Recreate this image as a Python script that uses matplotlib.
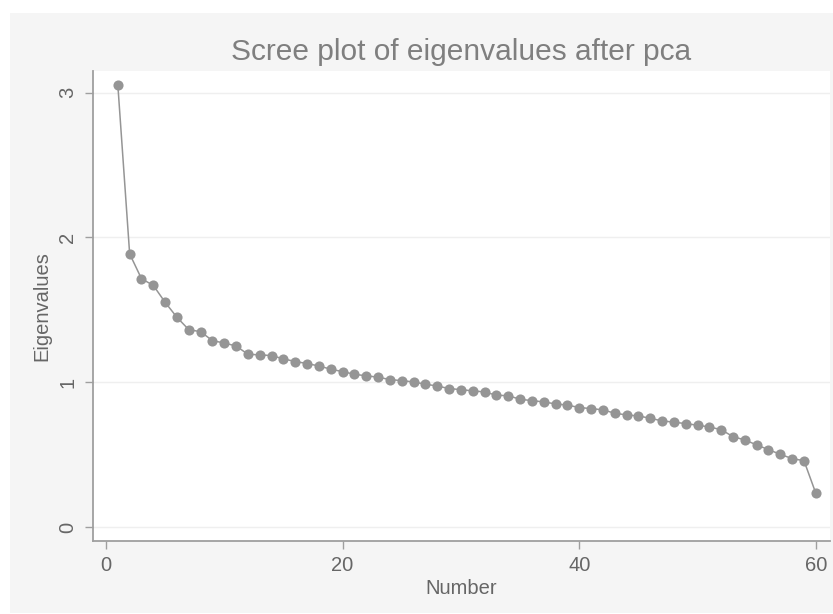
import matplotlib
matplotlib.use("Agg")
import matplotlib.pyplot as plt
from matplotlib.patches import Rectangle

# eigenvalues
number = list(range(1, 61))
eigenvalues = [
    3.055, 1.887, 1.715, 1.669, 1.552, 1.448, 1.363, 1.349, 1.287, 1.271,
    1.250, 1.193, 1.189, 1.184, 1.161, 1.143, 1.129, 1.112, 1.090, 1.073,
    1.055, 1.044, 1.035, 1.018, 1.011, 1.002, 0.986, 0.974, 0.956, 0.949,
    0.940, 0.933, 0.910, 0.907, 0.882, 0.873, 0.864, 0.850, 0.842, 0.825,
    0.818, 0.809, 0.786, 0.774, 0.767, 0.751, 0.733, 0.724, 0.714, 0.703,
    0.691, 0.672, 0.624, 0.601, 0.567, 0.534, 0.502, 0.472, 0.458, 0.233,
]
xticks = [0, 20, 40, 60]
yticks = [0, 1, 2, 3]

plt.rcParams['font.family'] = ['Liberation Sans', 'DejaVu Sans']
text_col = '#666666'
axis_col = '#9f9f9f'
mark_col = '#959595'

fig = plt.figure(figsize=(8.33, 6.14), dpi=100)
fig.patch.set_facecolor('white')
fig.add_artist(Rectangle((10 / 833, 1 - 613 / 614), 823 / 833, 600 / 614,
                         transform=fig.transFigure, facecolor='#f5f5f5',
                         edgecolor='none', zorder=0))

ax = fig.add_axes([92.5 / 833, 1 - 541 / 614, (830 - 92.5) / 833, (541 - 71) / 614])
ax.set_facecolor('white')
ax.plot(number, eigenvalues, color=mark_col, lw=1.1, marker='o',
        markersize=7.3, markerfacecolor=mark_col, markeredgewidth=0, zorder=3)

ax.set_xlim(-1.14, 61.2)
ax.set_ylim(-0.097, 3.15)
ax.set_xticks(xticks)
ax.set_yticks(yticks)
ax.grid(axis='y', color='#efefef', lw=1.0)
ax.set_axisbelow(True)

for side in ['top', 'right']:
    ax.spines[side].set_visible(False)
for side in ['left', 'bottom']:
    ax.spines[side].set_color(axis_col)
    ax.spines[side].set_linewidth(1.3)

ax.tick_params(axis='both', colors=axis_col, labelcolor=text_col,
               length=6, width=1.0, labelsize=14.5, pad=5)
for lab in ax.get_yticklabels():
    lab.set_rotation(90)
    lab.set_va('center')

ax.set_xlabel('Number', fontsize=14.5, color=text_col, labelpad=3)
ax.set_ylabel('Eigenvalues', fontsize=14.5, color=text_col, labelpad=5)
ax.set_title('Scree plot of eigenvalues after pca', fontsize=21.5,
             color='#7f7f7f', pad=8)

fig.savefig('out.png', dpi=100)
